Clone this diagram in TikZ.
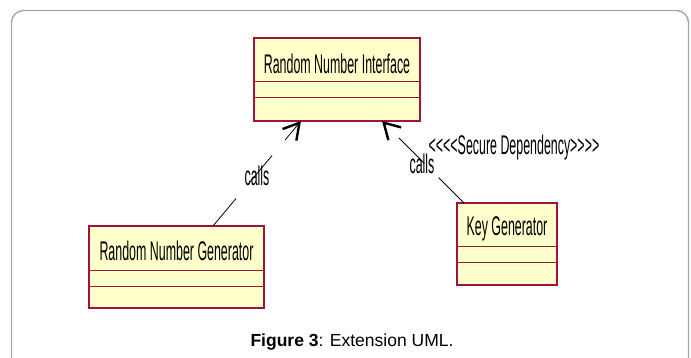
\documentclass[tikz,border=0pt]{standalone}
\usepackage{fontspec}
\setmainfont{Liberation Sans}
\usepackage{graphicx}
\usetikzlibrary{arrows.meta,calc}
\definecolor{boxfill}{RGB}{255,255,204}
\definecolor{boxline}{RGB}{158,20,60}
\definecolor{framegray}{RGB}{160,168,168}
\newcommand\narrowtext[1]{\scalebox{0.46}[1]{\fontsize{27}{27}\selectfont #1}}
\begin{document}
\begin{tikzpicture}[x=1pt,y=-1pt,
  classbox/.style={draw=boxline, fill=boxfill, line width=1.2pt, inner sep=0pt, outer sep=0pt},
  divider/.style={draw=boxline, line width=1pt},
  titletext/.style={inner sep=0pt},
  dep/.style={draw=black, line width=0.8pt, dash pattern=on 36pt off 20pt,
    -{Straight Barb[angle=60:18pt, line width=2.4pt]}},
  lbl/.style={inner sep=0pt}]
\useasboundingbox (0,0) rectangle (691,358);
\clip (0,0) rectangle (691,358);
\draw[framegray, line width=1.4pt, rounded corners=12pt] (11.5,380) -- (11.5,10.5) -- (688.5,10.5) -- (688.5,380);

% classes
\node[classbox, minimum width=166pt, minimum height=83pt] (iface) at (337,79.5) {};
\draw[divider] ($(iface.north west)+(0,44)$) -- ($(iface.north east)+(0,44)$);
\draw[divider] ($(iface.north west)+(0,60)$) -- ($(iface.north east)+(0,60)$);
\node[titletext] (ifacet) at (337,63.5) {\narrowtext{Random Number Interface}};

\node[classbox, minimum width=175pt, minimum height=82pt] (rng) at (176.5,267) {};
\draw[divider] ($(rng.north west)+(0,45)$) -- ($(rng.north east)+(0,45)$);
\draw[divider] ($(rng.north west)+(0,60)$) -- ($(rng.north east)+(0,60)$);
\node[titletext] (rngt) at (176.5,251) {\narrowtext{Random Number Generator}};

\node[classbox, minimum width=100pt, minimum height=82pt] (key) at (507,244) {};
\draw[divider] ($(key.north west)+(0,44)$) -- ($(key.north east)+(0,44)$);
\draw[divider] ($(key.north west)+(0,60)$) -- ($(key.north east)+(0,60)$);
\node[titletext] (keyt) at (507,229) {\narrowtext{Key Generator}};

% dependencies
\draw[dep] ($(rng.north)+(36.5,0)$) -- ($(iface.south)+(-36,0)$);
\draw[dep] ($(key.north west)+(7,0)$) -- ($(iface.south)+(45,0)$);

\node[lbl] (calls1) at (257,176) {\narrowtext{calls}};
\node[lbl] (calls2) at (422,164) {\narrowtext{calls}};
\node[lbl] (secure) at (514,148) {\narrowtext{<{}<{}<{}<Secure Dependency>{}>{}>{}>}};

% caption
\node[anchor=base, inner sep=0pt] (caption) at (352,346) {\fontsize{17.5}{17.5}\selectfont\textbf{Figure 3}: Extension UML.};
\end{tikzpicture}
\end{document}
